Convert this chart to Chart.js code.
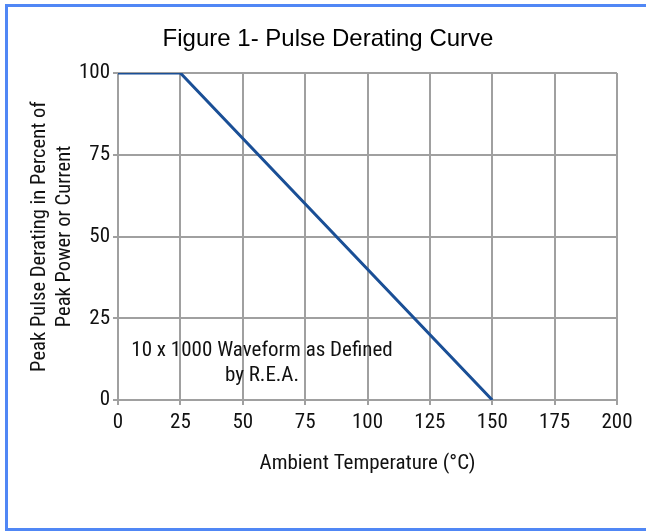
<!DOCTYPE html>
<html>
<head>
<meta charset="utf-8">
<script src="https://cdn.jsdelivr.net/npm/chart.js@4/dist/chart.umd.min.js"></script>
<style>
  html, body { margin: 0; padding: 0; background: #fff; width: 646px; height: 531px; overflow: hidden; }
  #frame { position: absolute; left: 5px; top: 4px; width: 700px; height: 527px; border: 3px solid #5087f5; box-sizing: border-box; }
  canvas { position: absolute; left: 0; top: 0; }
</style>
</head>
<body>
<div id="frame"></div>
<canvas id="c" width="646" height="531"></canvas>
<script>
// ---- data ----
const temperatures = [0, 25, 150];          // Ambient temperature (°C)
const deratingPercent = [100, 100, 0];      // Peak pulse derating (%)
const xTicks = [0, 25, 50, 75, 100, 125, 150, 175, 200];
const yTicks = [0, 25, 50, 75, 100];
const chartTitle = 'Figure 1- Pulse Derating Curve';
const xTitle = 'Ambient Temperature (°C)';
const yTitle = ['Peak Pulse Derating in Percent of', 'Peak Power or Current'];
const noteLines = ['10 x 1000 Waveform as Defined', 'by R.E.A.'];
const notePos = { x: 57.7, y: 15 };

const narrow = '"Roboto Condensed", "DejaVu Sans Condensed", sans-serif';
const gridColor = '#a0a0a0';

const notePlugin = {
  id: 'note',
  afterDatasetsDraw(chart) {
    const { ctx, scales } = chart;
    const px = scales.x.getPixelForValue(notePos.x);
    const py = scales.y.getPixelForValue(notePos.y);
    ctx.save();
    ctx.fillStyle = '#111';
    ctx.font = '21px ' + narrow;
    ctx.textAlign = 'center';
    ctx.textBaseline = 'middle';
    noteLines.forEach((t, i) => ctx.fillText(t, px, py + i * 25));
    ctx.restore();
  }
};

new Chart(document.getElementById('c'), {
  type: 'line',
  data: {
    datasets: [{
      data: temperatures.map((t, i) => ({ x: t, y: deratingPercent[i] })),
      borderColor: '#1a4f96',
      borderWidth: 3,
      pointRadius: 0,
      fill: false,
      tension: 0
    }]
  },
  options: {
    responsive: false,
    animation: false,
    devicePixelRatio: 1,
    layout: { padding: { left: 10, right: 0, top: 0, bottom: 0 } },
    plugins: {
      legend: { display: false },
      tooltip: { enabled: false },
      title: {
        display: true,
        text: chartTitle,
        color: '#000',
        font: { family: '"Liberation Sans", Arial, sans-serif', size: 24, weight: 'normal', lineHeight: 1.2 },
        padding: { top: 25.3, bottom: 18.9 }
      }
    },
    scales: {
      x: {
        type: 'linear',
        min: 0, max: 200,
        afterBuildTicks(s) { s.ticks = xTicks.map(v => ({ value: v })); },
        afterFit(s) { s.height = 131; },
        grid: { color: gridColor, lineWidth: 2, tickLength: 5, drawTicks: true },
        border: { color: gridColor, width: 2 },
        ticks: { color: '#111', padding: 5, maxRotation: 0, font: { family: narrow, size: 21, lineHeight: 1.2 } },
        title: {
          display: true, text: xTitle, color: '#111',
          font: { family: narrow, size: 21, lineHeight: 1.2 },
          padding: { top: 0, bottom: 54.4 }
        }
      },
      y: {
        type: 'linear',
        min: 0, max: 100,
        afterBuildTicks(s) { s.ticks = yTicks.map(v => ({ value: v })); },
        afterFit(s) { s.width = 108; },
        grid: { color: gridColor, lineWidth: 2, tickLength: 5, drawTicks: true },
        border: { color: gridColor, width: 2 },
        ticks: { color: '#111', padding: 3, font: { family: narrow, size: 21 } },
        title: {
          display: true, text: yTitle, color: '#111',
          font: { family: narrow, size: 20.6, lineHeight: 1.22 },
          padding: { top: 17, bottom: 0 }
        }
      },
      yRightSpace: {
        type: 'linear',
        position: 'right',
        min: 0, max: 100,
        afterFit(s) { s.width = 29; },
        grid: { display: false },
        border: { display: false },
        ticks: { display: false },
        title: { display: false }
      }
    }
  },
  plugins: [notePlugin]
});
</script>
</body>
</html>
